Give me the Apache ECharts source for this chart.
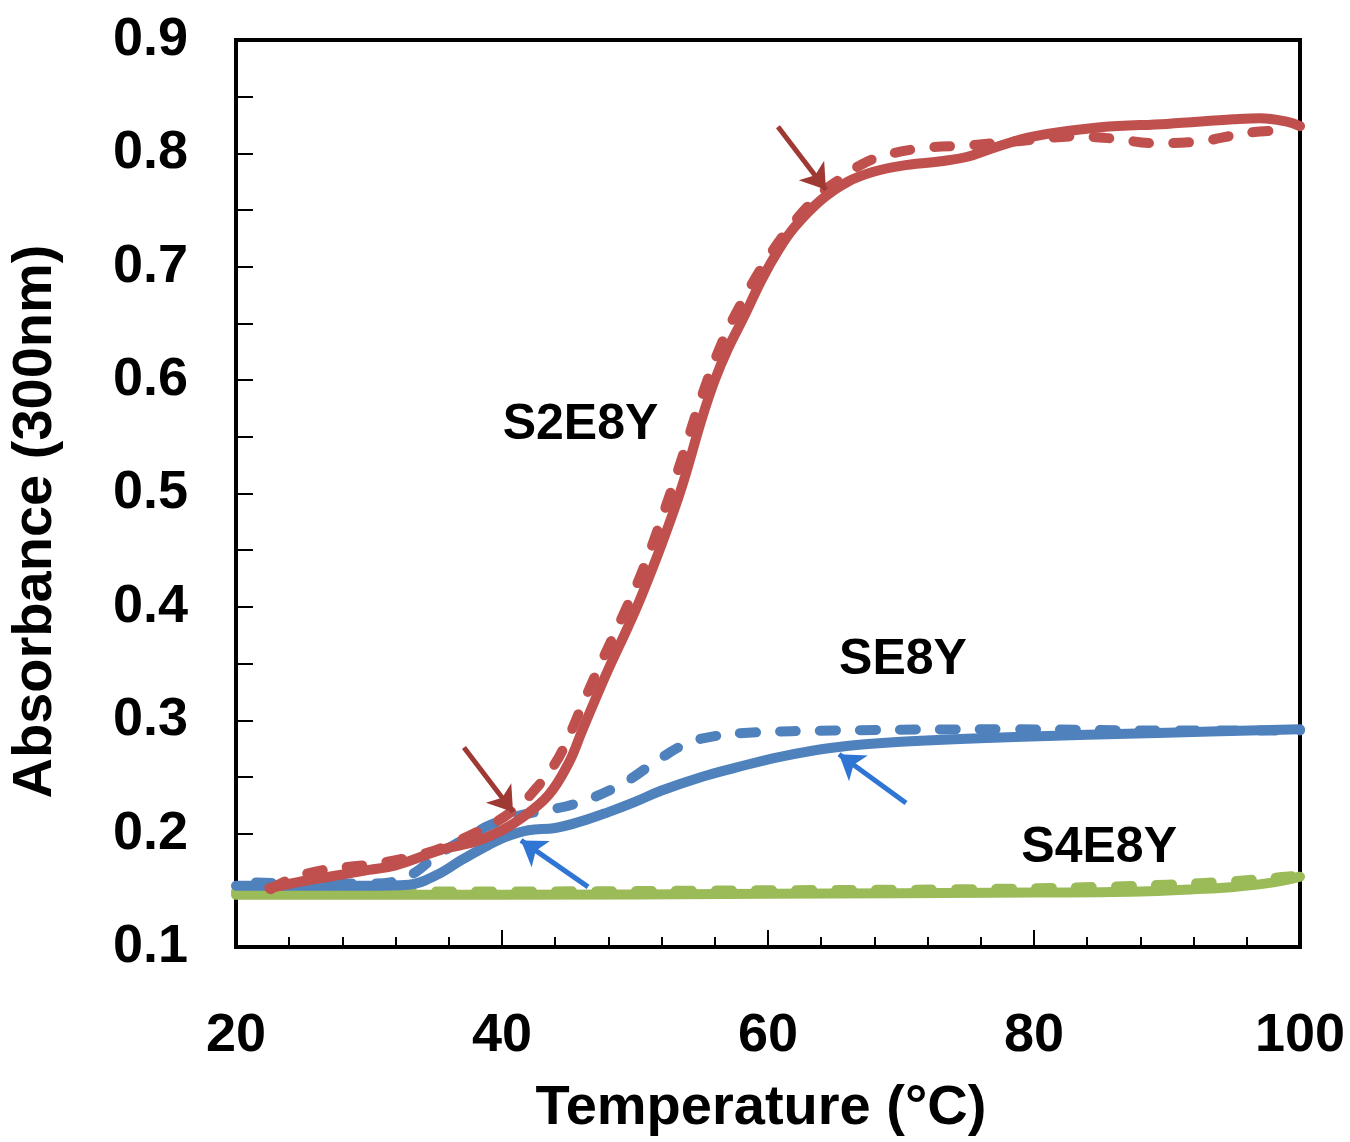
<!DOCTYPE html>
<html>
<head>
<meta charset="utf-8">
<script src="https://cdn.jsdelivr.net/npm/echarts@6/dist/echarts.min.js"></script>
<style>
  html, body { margin: 0; padding: 0; background: #fff; }
  #chart { width: 1350px; height: 1142px; }
</style>
</head>
<body>
<div id="chart"></div>
<script>
// values: [temperature, absorbance]
const s2e8ySolid = [
  [22.5, 0.152], [25, 0.158], [27, 0.162], [30, 0.168], [32, 0.172], [35.5, 0.186], [38, 0.193], [40, 0.203],
  [41.5, 0.214], [43.5, 0.234], [45, 0.262], [46, 0.29], [47, 0.318], [48, 0.345], [49.5, 0.383],
  [50.5, 0.41], [52, 0.455], [53.5, 0.505], [55, 0.565], [56, 0.6], [57, 0.628], [58.2, 0.656],
  [59.5, 0.688], [60.75, 0.714], [62, 0.735], [64, 0.759], [66, 0.775], [68, 0.784], [70, 0.789],
  [73, 0.793], [75, 0.797], [77, 0.805], [80, 0.815], [85, 0.823], [90, 0.826], [95, 0.83],
  [97, 0.831], [99, 0.828], [100, 0.824]
];
const s2e8yDashed = [
  [22.6, 0.151], [24.1, 0.16], [26.6, 0.168], [30.2, 0.173], [33.7, 0.181], [36, 0.19], [39.5, 0.21],
  [41, 0.222], [42.2, 0.235], [44, 0.262], [45, 0.285], [46.2, 0.318], [47.5, 0.352], [49, 0.39],
  [50.5, 0.43], [52, 0.478], [53.5, 0.53], [55, 0.585], [56.5, 0.632], [58, 0.668], [60, 0.708],
  [62, 0.74], [64, 0.765], [65.5, 0.778], [67, 0.79], [69, 0.799], [72, 0.805], [75, 0.807],
  [78, 0.81], [80, 0.812], [83, 0.815], [86, 0.813], [89, 0.809], [92, 0.81], [96, 0.818], [98, 0.82]
];
const se8ySolid = [
  [20, 0.154], [30, 0.154], [33, 0.155], [35, 0.163], [37, 0.177], [39, 0.19], [40.5, 0.198],
  [42, 0.203], [44, 0.205], [46, 0.211], [48, 0.219], [50, 0.228], [52, 0.238], [55, 0.25],
  [57.5, 0.258], [61, 0.268], [65, 0.276], [70, 0.281], [78, 0.285], [90, 0.289], [100, 0.292]
];
const se8yDashed = [
  [21.5, 0.157], [25, 0.156], [30, 0.156], [32, 0.158], [33.5, 0.166], [35, 0.18], [37, 0.194],
  [39, 0.207], [41, 0.215], [42.5, 0.219], [45.4, 0.226], [48.9, 0.243], [52, 0.267], [54, 0.28],
  [56, 0.286], [58.5, 0.289], [65, 0.291], [78, 0.292], [90, 0.291], [100, 0.291]
];
const s4e8ySolid = [
  [20, 0.146], [40, 0.146], [60, 0.147], [80, 0.148], [88, 0.149], [92, 0.151], [95, 0.153],
  [98, 0.157], [100, 0.162]
];
const s4e8yDashed = [
  [20, 0.149], [40, 0.149], [60, 0.15], [75, 0.151], [85, 0.153], [90, 0.155], [95, 0.158],
  [98, 0.161], [100, 0.163]
];

// sample names and where they sit, in data units
const sampleLabels = [
  [45.9, 0.56, "S2E8Y"],
  [70.15, 0.353, "SE8Y"],
  [84.9, 0.187, "S4E8Y"]
];
// arrows: [from, to]
const redArrows = [
  [[60.75, 0.8235], [64.36, 0.768]],
  [[37.14, 0.276], [40.83, 0.219]]
];
const blueArrows = [
  [[70.38, 0.227], [65.34, 0.27]],
  [[46.47, 0.153], [41.43, 0.194]]
];

const RED = "#c0504d", BLUE = "#4f81bd", GREEN = "#9bbb59";
const FONT = "Liberation Sans";

const chart = echarts.init(document.getElementById("chart"));

function curve(name, data, color, dashed) {
  return {
    name: name,
    type: "line",
    data: data,
    smooth: 0.4,
    showSymbol: false,
    symbol: "none",
    lineStyle: {
      color: color,
      width: 10,
      type: dashed ? [16, 24] : "solid",
      cap: "round",
      join: "round"
    }
  };
}

function arrows(list, color) {
  return {
    type: "line",
    data: [],
    silent: true,
    markLine: {
      silent: true,
      symbol: ["none", "arrow"],
      symbolSize: 24,
      label: { show: false },
      lineStyle: { color: color, width: 5, type: "solid" },
      emphasis: { disabled: true },
      data: list.map(a => [{ coord: a[0] }, { coord: a[1] }])
    }
  };
}

const option = {
  animation: false,
  backgroundColor: "#fff",
  grid: {
    left: 235, right: 50, top: 40, bottom: 192,
    show: true, borderColor: "#000", borderWidth: 4, backgroundColor: "transparent"
  },
  xAxis: {
    type: "value",
    min: 20, max: 100, interval: 20,
    name: "Temperature (°C)",
    nameLocation: "middle",
    nameGap: 134,
    nameTextStyle: { fontFamily: FONT, fontWeight: "bold", fontSize: 56, color: "#000", padding: [0, 14, 0, 0] },
    axisLine: { show: true, lineStyle: { color: "#000", width: 4 } },
    axisTick: { show: true, inside: true, length: 17, lineStyle: { color: "#000", width: 2 } },
    minorTick: { show: true, splitNumber: 5, length: 10, lineStyle: { color: "#000", width: 2 } },
    splitLine: { show: false },
    axisLabel: { margin: 62, fontFamily: FONT, fontWeight: "bold", fontSize: 54, color: "#000" }
  },
  yAxis: {
    type: "value",
    min: 0.1, max: 0.9, interval: 0.1,
    name: "Absorbance (300nm)",
    nameLocation: "middle",
    nameGap: 172,
    nameRotate: 90,
    nameTextStyle: { fontFamily: FONT, fontWeight: "bold", fontSize: 56, color: "#000", padding: [0, 56, 0, 0] },
    axisLine: { show: true, lineStyle: { color: "#000", width: 4 } },
    axisTick: { show: true, inside: true, length: 17, lineStyle: { color: "#000", width: 2 } },
    minorTick: { show: true, splitNumber: 2, length: 17, lineStyle: { color: "#000", width: 2 } },
    splitLine: { show: false },
    axisLabel: {
      margin: 48, fontFamily: FONT, fontWeight: "bold", fontSize: 54, color: "#000",
      formatter: v => v.toFixed(1)
    }
  },
  series: [
    curve("S4E8Y", s4e8ySolid, GREEN, false),
    curve("S4E8Y dashed", s4e8yDashed, GREEN, true),
    curve("SE8Y", se8ySolid, BLUE, false),
    curve("SE8Y dashed", se8yDashed, BLUE, true),
    curve("S2E8Y", s2e8ySolid, RED, false),
    curve("S2E8Y dashed", s2e8yDashed, RED, true),
    arrows(redArrows, "#9e3a33"),
    arrows(blueArrows, "#2f75d3")
  ]
};

chart.setOption(option);

// sample names placed through the axes' own scales
chart.setOption({
  graphic: sampleLabels.map(l => {
    const p = chart.convertToPixel({ gridIndex: 0 }, [l[0], l[1]]);
    return {
      type: "text",
      x: p[0], y: p[1],
      silent: true,
      style: {
        text: l[2],
        fill: "#000",
        font: "bold 50px '" + FONT + "'",
        align: "center",
        verticalAlign: "middle"
      }
    };
  })
});
</script>
</body>
</html>
